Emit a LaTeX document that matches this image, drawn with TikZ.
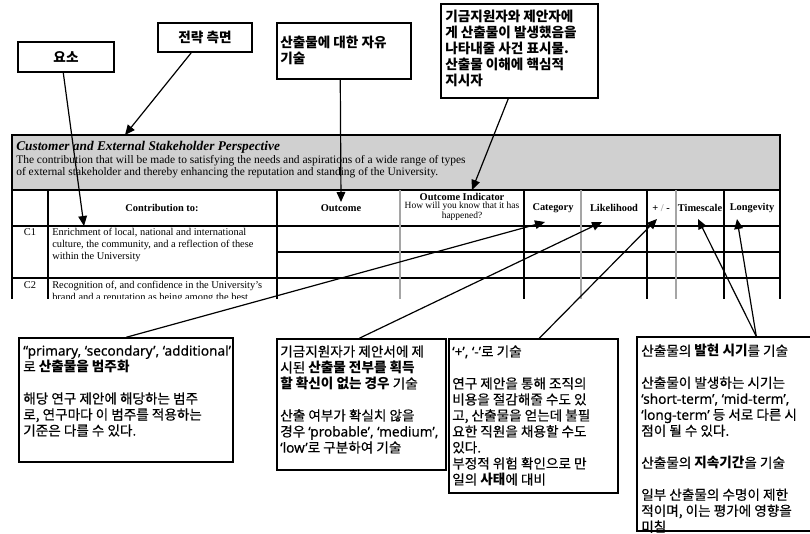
\documentclass[tikz,border=0pt]{standalone}
\usepackage{fontspec}
\setmainfont{Liberation Serif}
\newfontfamily\kr{Noto Sans CJK KR}[UprightFeatures={FakeBold=0.35}]
\newfontfamily\lat{Noto Sans}[UprightFeatures={FakeBold=0.35}]
\usetikzlibrary{arrows.meta,calc,fit}
\definecolor{hdrgrey}{RGB}{208,208,208}
\definecolor{lgrey}{RGB}{165,165,165}
\newcommand\ksize{\fontsize{10.2pt}{12pt}\selectfont}
\begin{document}
\begin{tikzpicture}[x=0.75pt,y=-0.75pt,
  callout/.style={draw, line width=1.1pt, inner sep=0pt},
  ktext/.style={anchor=north west, align=left, inner sep=0pt, font=\kr\ksize},
  kcenter/.style={inner sep=0pt, font=\kr\ksize\bfseries},
  conn/.style={line width=0.9pt, -{Triangle[length=7.5pt,width=6.5pt]}},
  thead/.style={font=\fontsize{7.8pt}{9pt}\selectfont\bfseries, inner sep=0pt},
  tsub/.style={font=\fontsize{7.1pt}{7.5pt}\selectfont, inner sep=0pt, align=center},
  tbody/.style={font=\fontsize{7.8pt}{9pt}\selectfont, inner sep=0pt, align=left},
  tline/.style={line width=0.8pt},
  gline/.style={line width=0.8pt, lgrey},
]
\useasboundingbox (0,0) rectangle (810,533);
\fill[white] (0,0) rectangle (810,533);

% ---------- table ----------
\begin{scope}
\clip (0,120) rectangle (810,298);
\fill[hdrgrey] (12,135) rectangle (780,190);
\draw[tline] (12,190) -- (780,190);
\draw[tline] (12,226) -- (780,226);
\draw[tline] (277,252) -- (780,252);
\draw[tline] (12,278) -- (780,278);
\draw[line width=1.3pt] (48,190) -- (48,305);
\draw[tline] (277,190) -- (277,305);
\draw[gline] (400,190) -- (400,305);
\draw[tline] (524,190) -- (524,305);
\draw[gline] (581,190) -- (581,305);
\draw[tline] (647,190) -- (647,305);
\draw[gline] (676,190) -- (676,305);
\draw[tline] (724,190) -- (724,305);
\draw[line width=1.3pt] (12,305) -- (12,135) -- (780,135) -- (780,305);

\node[anchor=base west, inner sep=0pt, font=\fontsize{10pt}{11pt}\selectfont\bfseries\itshape] (ttl) at (16,150) {Customer and External Stakeholder Perspective};
\node[anchor=north west, inner sep=0pt, align=left, font=\fontsize{8.6pt}{9pt}\selectfont] (desc) at (16,155) {The contribution that will be made to satisfying the needs and aspirations of a wide range of types\\of external stakeholder and thereby enhancing the reputation and standing of the University.};

\node[thead] (hContrib) at (162,208) {Contribution to:};
\node[thead] (hOutcome) at (341,208) {Outcome};
\node[thead] (hInd) at (462,197) {Outcome Indicator};
\node[tsub, anchor=north] (hIndSub) at (462,202) {How will you know that it has\\happened?};
\node[thead] (hCat) at (553,208) {Category};
\node[thead] (hLik) at (614,208) {Likelihood};
\node[thead] (hPM) at (661,208) {+ \textcolor{lgrey}{/} -};
\node[thead] (hTime) at (700,208) {Timescale};
\node[thead] (hLong) at (752,208) {Longevity};

\node[tbody] (c1) at (30,232) {C1};
\node[tbody, anchor=north west] (c1t) at (52,227.5) {Enrichment of local, national and international\\culture, the community, and a reflection of these\\within the University};
\node[tbody] (c2) at (30,285) {C2};
\node[tbody, anchor=north west] (c2t) at (52,280.5) {Recognition of, and confidence in the University's\\brand and a reputation as being among the best};
\end{scope}

% ---------- top callouts ----------
\node[callout, fit={(18,42)(114,72)}] (yoso) {};
\node[kcenter] (yosoT) at (yoso.center) {요소};
\node[callout, fit={(158,23)(252,52)}] (strat) {};
\node[kcenter] (stratT) at (strat.center) {전략 측면};
\node[callout, fit={(277,23)(411,79)}] (free) {};
\node[ktext, font=\kr\ksize\bfseries] (freeT) at (280,36) {산출물에 대한 자유\\기술};
\node[callout, fit={(441,4)(598,98)}] (indic) {};
\node[ktext, font=\kr\ksize\bfseries] (indicT) at (445,10) {기금지원자와 제안자에\\게 산출물이 발생했음을\\나타내줄 사건 표시물.\\산출물 이해에 핵심적\\지시자};

% ---------- bottom callouts ----------
\node[callout, fit={(19,338)(233,462)}] (boxA) {};
\node[ktext] (boxAT) at (23,345) {{\lat “primary, ‘secondary’, ‘additional’}\\로 \textbf{산출물을 범주화}\\\mbox{}\\해당 연구 제안에 해당하는 범주\\로, 연구마다 이 범주를 적용하는\\기준은 다를 수 있다.};
\node[callout, fit={(277,339)(446,470)}] (boxB) {};
\node[ktext] (boxBT) at (280,345) {기금지원자가 제안서에 제\\시된 \textbf{산출물 전부를 획득}\\\textbf{할 확신이 없는 경우} 기술\\\mbox{}\\산출 여부가 확실치 않을\\경우 {\lat ‘probable’, ‘medium’,}\\{\lat ‘low’}로 구분하여 기술};
\node[callout, fit={(449,339)(618,493)}] (boxC) {};
\node[ktext] (boxCT) at (452,345) {{\lat ‘+’, ‘-’}로 기술\\\mbox{}\\연구 제안을 통해 조직의\\비용을 절감해줄 수도 있\\고, 산출물을 얻는데 불필\\요한 직원을 채용할 수도\\있다.\\부정적 위험 확인으로 만\\일의 \textbf{사태}에 대비};
\node[callout, fit={(637,337)(820,531)}] (boxD) {};
\node[ktext] (boxDT) at (641,344) {산출물의 \textbf{발현 시기}를 기술\\\mbox{}\\산출물이 발생하는 시기는\\{\lat ‘short-term’, ‘mid-term’,}\\{\lat ‘long-term’} 등 서로 다른 시\\점이 될 수 있다.\\\mbox{}\\산출물의 \textbf{지속기간}을 기술\\\mbox{}\\일부 산출물의 수명이 제한\\적이며, 이는 평가에 영향을\\미침};

% ---------- arrow tips ----------
\coordinate (tipContrib) at (84,226);
\coordinate (tipPersp) at (125,135);
\coordinate (tipOutcome) at (341,202);
\coordinate (tipInd) at (472,190);
\coordinate (tipCat) at (545,222);
\coordinate (tipLik) at (602,222);
\coordinate (tipPM) at (657,219);
\coordinate (tipTime) at (698,219);
\coordinate (tipLong) at (737,219);

% ---------- connectors ----------
\draw[conn] ($(yoso.south west)+(46,0)$) -- (tipContrib);
\draw[conn] ($(strat.south west)+(34,0)$) -- (tipPersp);
\draw[conn] ($(free.south west)+(64,0)$) -- (tipOutcome);
\draw[conn] ($(indic.south west)+(68,0)$) -- (tipInd);
\draw[conn] ($(boxA.north west)+(108,0)$) -- (tipCat);
\draw[conn] ($(boxB.north west)+(83,0)$) -- (tipLik);
\draw[conn] ($(boxC.north west)+(91,0)$) -- (tipPM);
\draw[conn] ($(boxD.north west)+(120,0)$) -- (tipTime);
\draw[conn] ($(boxD.north west)+(120,0)$) -- (tipLong);
\end{tikzpicture}
\end{document}
